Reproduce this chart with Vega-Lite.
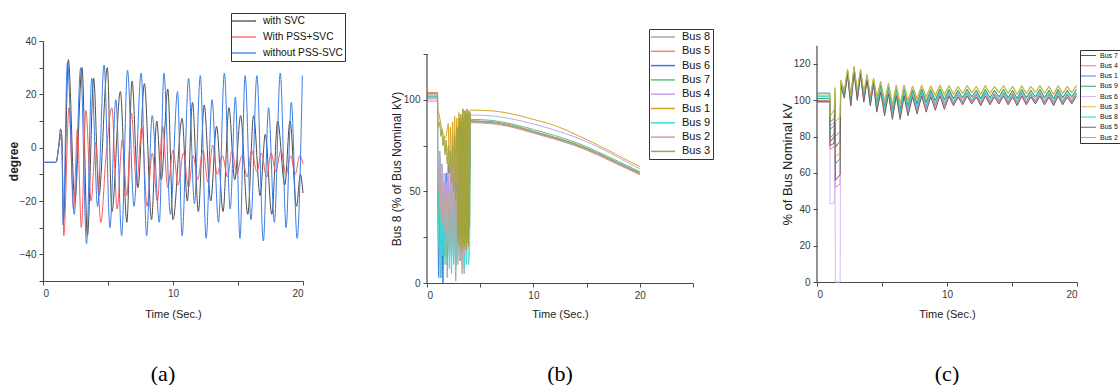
{
"$schema": "https://vega.github.io/schema/vega-lite/v6.json",
"autosize": {"type": "pad"},
"padding": {"left": 7, "top": 12, "right": 0, "bottom": 0},
"background": "white",
"bounds": "flush",
"spacing": 124,
"resolve": {"scale": {"color": "independent", "x": "independent", "y": "independent"}, "legend": {"color": "independent"}},
"config": {
 "view": {"stroke": null},
 "font": "Liberation Sans",
 "axis": {"grid": false, "domainColor": "#4a4a4a", "domainWidth": 1.2, "tickColor": "#4a4a4a", "tickWidth": 1, "tickSize": 4, "labelFontSize": 10, "labelColor": "#3a3a3a", "labelFont": "Liberation Sans", "labelPadding": 3, "titleFont": "Liberation Sans", "titleFontSize": 12, "titleFontWeight": "normal", "titleColor": "#222"},
 "title": {"font": "Liberation Serif", "fontSize": 22, "fontWeight": "normal", "color": "#000"},
 "legend": {"orient": "none", "symbolOpacity": 1, "labelFont": "Liberation Sans", "labelColor": "#111", "strokeColor": "#333", "fillColor": "white", "labelLimit": 300}
},
"hconcat": [
{
 "width": 260, "height": 240,
 "title": {"text": "(a)", "orient": "bottom", "offset": 45, "dx": -10},
 "data": {"values": [
  {"t":0,"v":-5.5,"s":"with SVC"},{"t":1.0,"v":-5.5,"s":"with SVC"},{"t":1.2,"v":0,"s":"with SVC"},{"t":1.35,"v":7,"s":"with SVC"},{"t":1.45,"v":4,"s":"with SVC"},{"t":1.58,"v":-27,"s":"with SVC"},{"t":1.95,"v":33,"s":"with SVC"},{"t":2.45,"v":-20,"s":"with SVC"},{"t":3.0,"v":30,"s":"with SVC"},{"t":3.42,"v":-33,"s":"with SVC"},{"t":3.9,"v":26,"s":"with SVC"},{"t":4.3,"v":-18,"s":"with SVC"},{"t":4.95,"v":30,"s":"with SVC"},{"t":5.3,"v":-24,"s":"with SVC"},{"t":5.95,"v":21,"s":"with SVC"},{"t":6.45,"v":-28,"s":"with SVC"},{"t":6.85,"v":25,"s":"with SVC"},{"t":7.3,"v":-15,"s":"with SVC"},{"t":7.8,"v":24,"s":"with SVC"},{"t":8.35,"v":-27,"s":"with SVC"},{"t":8.75,"v":10,"s":"with SVC"},{"t":9.1,"v":-12,"s":"with SVC"},{"t":9.6,"v":22,"s":"with SVC"},{"t":10.0,"v":-27,"s":"with SVC"},{"t":10.7,"v":11,"s":"with SVC"},{"t":11.1,"v":-20,"s":"with SVC"},{"t":11.5,"v":17,"s":"with SVC"},{"t":11.95,"v":-24,"s":"with SVC"},{"t":12.4,"v":16,"s":"with SVC"},{"t":12.9,"v":-20,"s":"with SVC"},{"t":13.35,"v":8,"s":"with SVC"},{"t":13.85,"v":-24,"s":"with SVC"},{"t":14.3,"v":15,"s":"with SVC"},{"t":14.75,"v":-12,"s":"with SVC"},{"t":15.2,"v":12,"s":"with SVC"},{"t":15.75,"v":-25,"s":"with SVC"},{"t":16.2,"v":12,"s":"with SVC"},{"t":16.7,"v":-18,"s":"with SVC"},{"t":17.1,"v":5,"s":"with SVC"},{"t":17.6,"v":-25,"s":"with SVC"},{"t":18.05,"v":10,"s":"with SVC"},{"t":18.6,"v":-14,"s":"with SVC"},{"t":19.0,"v":10,"s":"with SVC"},{"t":19.5,"v":-22,"s":"with SVC"},{"t":19.8,"v":-10,"s":"with SVC"},{"t":20.0,"v":-17,"s":"with SVC"},
  {"t":0,"v":-5.5,"s":"With PSS+SVC"},{"t":1.0,"v":-5.5,"s":"With PSS+SVC"},{"t":1.2,"v":0,"s":"With PSS+SVC"},{"t":1.35,"v":4,"s":"With PSS+SVC"},{"t":1.45,"v":1,"s":"With PSS+SVC"},{"t":1.6,"v":-33,"s":"With PSS+SVC"},{"t":2.0,"v":15,"s":"With PSS+SVC"},{"t":2.35,"v":-23,"s":"With PSS+SVC"},{"t":2.65,"v":7,"s":"With PSS+SVC"},{"t":2.95,"v":-30,"s":"With PSS+SVC"},{"t":3.3,"v":14,"s":"With PSS+SVC"},{"t":3.7,"v":-20,"s":"With PSS+SVC"},{"t":4.05,"v":2,"s":"With PSS+SVC"},{"t":4.45,"v":-28,"s":"With PSS+SVC"},{"t":4.85,"v":-3,"s":"With PSS+SVC"},{"t":5.3,"v":15,"s":"With PSS+SVC"},{"t":5.7,"v":-23,"s":"With PSS+SVC"},{"t":6.1,"v":3,"s":"With PSS+SVC"},{"t":6.45,"v":-18,"s":"With PSS+SVC"},{"t":6.8,"v":13,"s":"With PSS+SVC"},{"t":7.2,"v":-14,"s":"With PSS+SVC"},{"t":7.6,"v":8,"s":"With PSS+SVC"},{"t":8.0,"v":-22,"s":"With PSS+SVC"},{"t":8.4,"v":-2,"s":"With PSS+SVC"},{"t":8.8,"v":-20,"s":"With PSS+SVC"},{"t":9.2,"v":8,"s":"With PSS+SVC"},{"t":9.6,"v":-15,"s":"With PSS+SVC"},{"t":10.0,"v":-1,"s":"With PSS+SVC"},{"t":10.4,"v":-14,"s":"With PSS+SVC"},{"t":10.8,"v":-2,"s":"With PSS+SVC"},{"t":11.2,"v":-15,"s":"With PSS+SVC"},{"t":11.55,"v":-3,"s":"With PSS+SVC"},{"t":11.9,"v":-12,"s":"With PSS+SVC"},{"t":12.3,"v":-1,"s":"With PSS+SVC"},{"t":12.7,"v":-13,"s":"With PSS+SVC"},{"t":13.05,"v":1,"s":"With PSS+SVC"},{"t":13.4,"v":-10,"s":"With PSS+SVC"},{"t":13.8,"v":-3,"s":"With PSS+SVC"},{"t":14.2,"v":-11,"s":"With PSS+SVC"},{"t":14.55,"v":-1,"s":"With PSS+SVC"},{"t":14.9,"v":-10,"s":"With PSS+SVC"},{"t":15.3,"v":-3,"s":"With PSS+SVC"},{"t":15.7,"v":-11,"s":"With PSS+SVC"},{"t":16.05,"v":-1,"s":"With PSS+SVC"},{"t":16.45,"v":-9,"s":"With PSS+SVC"},{"t":16.8,"v":-2,"s":"With PSS+SVC"},{"t":17.2,"v":-11,"s":"With PSS+SVC"},{"t":17.55,"v":-2,"s":"With PSS+SVC"},{"t":17.9,"v":-9,"s":"With PSS+SVC"},{"t":18.3,"v":-1,"s":"With PSS+SVC"},{"t":18.7,"v":-10,"s":"With PSS+SVC"},{"t":19.05,"v":-3,"s":"With PSS+SVC"},{"t":19.4,"v":-10,"s":"With PSS+SVC"},{"t":19.75,"v":-3,"s":"With PSS+SVC"},{"t":20.0,"v":-6,"s":"With PSS+SVC"},
  {"t":0,"v":-5.5,"s":"without PSS-SVC"},{"t":1.0,"v":-5.5,"s":"without PSS-SVC"},{"t":1.2,"v":0,"s":"without PSS-SVC"},{"t":1.35,"v":5,"s":"without PSS-SVC"},{"t":1.45,"v":2,"s":"without PSS-SVC"},{"t":1.55,"v":-29,"s":"without PSS-SVC"},{"t":1.88,"v":32,"s":"without PSS-SVC"},{"t":2.4,"v":-25,"s":"without PSS-SVC"},{"t":2.9,"v":30,"s":"without PSS-SVC"},{"t":3.35,"v":-36,"s":"without PSS-SVC"},{"t":3.75,"v":26,"s":"without PSS-SVC"},{"t":4.2,"v":-22,"s":"without PSS-SVC"},{"t":4.7,"v":31,"s":"without PSS-SVC"},{"t":5.15,"v":-30,"s":"without PSS-SVC"},{"t":5.6,"v":18,"s":"without PSS-SVC"},{"t":6.05,"v":-33,"s":"without PSS-SVC"},{"t":6.5,"v":29,"s":"without PSS-SVC"},{"t":7.0,"v":-22,"s":"without PSS-SVC"},{"t":7.55,"v":28,"s":"without PSS-SVC"},{"t":7.97,"v":-33,"s":"without PSS-SVC"},{"t":8.4,"v":12,"s":"without PSS-SVC"},{"t":8.95,"v":-28,"s":"without PSS-SVC"},{"t":9.3,"v":28,"s":"without PSS-SVC"},{"t":9.8,"v":-25,"s":"without PSS-SVC"},{"t":10.35,"v":21,"s":"without PSS-SVC"},{"t":10.7,"v":-33,"s":"without PSS-SVC"},{"t":11.2,"v":26,"s":"without PSS-SVC"},{"t":11.65,"v":-21,"s":"without PSS-SVC"},{"t":12.1,"v":27,"s":"without PSS-SVC"},{"t":12.55,"v":-34,"s":"without PSS-SVC"},{"t":13.0,"v":18,"s":"without PSS-SVC"},{"t":13.5,"v":-28,"s":"without PSS-SVC"},{"t":13.95,"v":28,"s":"without PSS-SVC"},{"t":14.4,"v":-23,"s":"without PSS-SVC"},{"t":14.8,"v":19,"s":"without PSS-SVC"},{"t":15.15,"v":-34,"s":"without PSS-SVC"},{"t":15.55,"v":27,"s":"without PSS-SVC"},{"t":16.0,"v":-27,"s":"without PSS-SVC"},{"t":16.45,"v":27,"s":"without PSS-SVC"},{"t":16.95,"v":-35,"s":"without PSS-SVC"},{"t":17.35,"v":15,"s":"without PSS-SVC"},{"t":17.8,"v":-28,"s":"without PSS-SVC"},{"t":18.25,"v":28,"s":"without PSS-SVC"},{"t":18.7,"v":-30,"s":"without PSS-SVC"},{"t":19.1,"v":17,"s":"without PSS-SVC"},{"t":19.55,"v":-34,"s":"without PSS-SVC"},{"t":19.95,"v":27,"s":"without PSS-SVC"}
 ]},
 "mark": {"type": "line", "strokeWidth": 1, "interpolate": "monotone"},
 "encoding": {
  "x": {"field": "t", "type": "quantitative", "scale": {"domain": [0, 20], "nice": false},
        "axis": {"values": [0, 5, 10, 15, 20], "labelExpr": "datum.value % 10 === 0 ? datum.label : ''", "title": "Time (Sec.)", "titleFontSize": 11, "titleY": 33, "titleBaseline": "middle"}},
  "y": {"field": "v", "type": "quantitative", "scale": {"domain": [-50, 40], "nice": false, "zero": false},
        "axis": {"values": [-50, -40, -30, -20, -10, 0, 10, 20, 30, 40], "labelExpr": "datum.value % 20 === 0 ? datum.label : ''", "title": "degree", "titleFontWeight": "bold", "titleX": -29.5, "titleY": 120, "titleAngle": 270, "titleAlign": "center", "titleBaseline": "middle"}},
  "color": {"field": "s", "type": "nominal",
            "scale": {"domain": ["with SVC", "With PSS+SVC", "without PSS-SVC"], "range": ["#4d4d4d", "#ff5a5a", "#3a7de8"]},
            "legend": {"title": null, "legendX": 188, "legendY": -28, "symbolType": "M-2.4,0H2.4", "symbolSize": 100, "symbolStrokeWidth": 1.3, "symbolOffset": 5, "labelFontSize": 10.2, "padding": 2, "rowPadding": 4, "labelOffset": 13}}
 }
},
{
 "width": 266, "height": 242,
 "title": {"text": "(b)", "orient": "bottom", "offset": 45},
 "layer": [
 {
  "data": {"values": [
   {"t":0,"b8":101,"b5":99.3,"b6":102,"b7":101.5,"b4":103,"b1":104,"b9":102,"b2":100.5,"b3":103.5},
   {"t":0.99,"b8":101,"b5":99.3,"b6":102,"b7":101.5,"b4":103,"b1":104,"b9":102,"b2":100.5,"b3":103.5},
   {"t":1.0,"b8":73,"b5":71,"b6":72,"b7":70,"b4":74,"b1":96,"b9":75,"b2":72,"b3":92},
   {"t":1.1,"b8":40,"b5":45,"b6":3,"b7":30,"b4":55,"b1":93,"b9":20,"b2":50,"b3":85},
   {"t":1.2,"b8":68,"b5":65,"b6":45,"b7":72,"b4":70,"b1":90,"b9":60,"b2":66,"b3":88},
   {"t":1.3,"b8":35,"b5":40,"b6":3,"b7":28,"b4":45,"b1":87,"b9":3,"b2":38,"b3":80},
   {"t":1.4,"b8":60,"b5":55,"b6":30,"b7":65,"b4":65,"b1":84,"b9":50,"b2":58,"b3":84},
   {"t":1.5,"b8":25,"b5":30,"b6":0,"b7":35,"b4":40,"b1":82,"b9":15,"b2":32,"b3":75},
   {"t":1.6,"b8":55,"b5":50,"b6":40,"b7":55,"b4":60,"b1":80,"b9":45,"b2":52,"b3":80},
   {"t":1.7,"b8":20,"b5":25,"b6":15,"b7":15,"b4":35,"b1":79,"b9":10,"b2":28,"b3":70},
   {"t":1.8,"b8":45,"b5":55,"b6":60,"b7":50,"b4":55,"b1":80,"b9":40,"b2":48,"b3":78},
   {"t":1.9,"b8":3,"b5":20,"b6":25,"b7":10,"b4":30,"b1":84,"b9":20,"b2":22,"b3":65},
   {"t":2.0,"b8":40,"b5":45,"b6":65,"b7":45,"b4":60,"b1":87,"b9":50,"b2":50,"b3":75},
   {"t":2.1,"b8":15,"b5":30,"b6":20,"b7":20,"b4":40,"b1":60,"b9":8,"b2":18,"b3":60},
   {"t":2.2,"b8":50,"b5":60,"b6":50,"b7":55,"b4":70,"b1":85,"b9":45,"b2":45,"b3":72},
   {"t":2.3,"b8":25,"b5":20,"b6":30,"b7":15,"b4":35,"b1":55,"b9":5,"b2":15,"b3":55},
   {"t":2.4,"b8":45,"b5":50,"b6":60,"b7":60,"b4":80,"b1":88,"b9":40,"b2":55,"b3":75},
   {"t":2.5,"b8":10,"b5":25,"b6":25,"b7":20,"b4":40,"b1":62,"b9":12,"b2":20,"b3":50},
   {"t":2.6,"b8":35,"b5":55,"b6":50,"b7":50,"b4":82,"b1":91,"b9":55,"b2":60,"b3":80},
   {"t":2.7,"b8":1,"b5":30,"b6":35,"b7":10,"b4":45,"b1":58,"b9":8,"b2":15,"b3":45},
   {"t":2.8,"b8":40,"b5":60,"b6":55,"b7":45,"b4":85,"b1":90,"b9":45,"b2":50,"b3":85},
   {"t":2.9,"b8":20,"b5":25,"b6":30,"b7":18,"b4":50,"b1":70,"b9":15,"b2":10,"b3":22},
   {"t":2.95,"b3":85},
   {"t":3.0,"b8":45,"b5":55,"b6":60,"b7":55,"b4":80,"b1":93,"b9":50,"b2":55,"b3":25},
   {"t":3.05,"b3":90},
   {"t":3.1,"b8":15,"b5":30,"b6":35,"b7":20,"b4":45,"b1":50,"b9":12,"b2":12,"b3":20},
   {"t":3.15,"b3":92},
   {"t":3.2,"b8":50,"b5":50,"b6":55,"b7":60,"b4":75,"b1":92,"b9":40,"b2":50,"b3":25},
   {"t":3.25,"b3":88},
   {"t":3.3,"b8":10,"b5":20,"b6":30,"b7":25,"b4":40,"b1":65,"b9":15,"b2":5,"b3":18},
   {"t":3.35,"b3":95},
   {"t":3.4,"b8":40,"b5":55,"b6":50,"b7":65,"b4":78,"b1":95,"b9":45,"b2":45,"b3":22},
   {"t":3.45,"b3":90},
   {"t":3.5,"b8":5,"b5":25,"b6":35,"b7":20,"b4":35,"b1":55,"b9":8,"b2":15,"b3":20},
   {"t":3.55,"b3":94},
   {"t":3.6,"b8":45,"b5":50,"b6":55,"b7":55,"b4":70,"b1":94,"b9":30,"b2":55,"b3":25},
   {"t":3.65,"b3":92},
   {"t":3.7,"b8":20,"b5":30,"b6":30,"b7":25,"b4":40,"b1":60,"b9":10,"b2":20,"b3":18},
   {"t":3.75,"b3":95},
   {"t":3.8,"b8":50,"b5":55,"b6":50,"b7":60,"b4":75,"b1":95,"b9":35,"b2":60,"b3":22},
   {"t":3.85,"b3":93},
   {"t":3.9,"b8":25,"b5":35,"b6":40,"b7":30,"b4":45,"b1":70,"b9":10,"b2":25,"b3":20},
   {"t":3.95,"b3":94},
   {"t":4.0,"b8":55,"b5":60,"b6":60,"b7":50,"b4":70,"b1":94,"b9":20,"b2":65,"b3":30},
   {"t":4.05,"b3":93},
   {"t":4.1,"b8":88,"b5":87.5,"b6":88.2,"b7":89.3,"b4":91.7,"b1":94.4,"b9":88.4,"b2":87.8,"b3":88.6},
   {"t":6,"b8":87.5,"b5":87,"b6":87.7,"b7":88.8,"b4":91.3,"b1":94,"b9":87.9,"b2":87.3,"b3":88.1},
   {"t":8,"b8":85.5,"b5":85,"b6":85.7,"b7":86.8,"b4":89.5,"b1":92.3,"b9":85.9,"b2":85.3,"b3":86.1},
   {"t":10,"b8":82.3,"b5":81.8,"b6":82.5,"b7":83.8,"b4":86.8,"b1":89.3,"b9":82.7,"b2":82.1,"b3":82.9},
   {"t":12,"b8":79,"b5":78.5,"b6":79.2,"b7":80.5,"b4":83.5,"b1":86,"b9":79.4,"b2":78.8,"b3":79.6},
   {"t":14,"b8":75.3,"b5":74.8,"b6":75.5,"b7":76.7,"b4":79.5,"b1":81,"b9":75.7,"b2":75.1,"b3":75.9},
   {"t":16,"b8":70.5,"b5":70,"b6":70.7,"b7":71.8,"b4":74.5,"b1":75.5,"b9":70.9,"b2":70.3,"b3":71.1},
   {"t":18,"b8":65,"b5":64.5,"b6":65.2,"b7":66.3,"b4":68.5,"b1":69.5,"b9":65.4,"b2":64.8,"b3":65.6},
   {"t":20,"b8":59.6,"b5":59.1,"b6":59.8,"b7":60.8,"b4":62.3,"b1":63.5,"b9":60,"b2":59.4,"b3":60.2}
  ]},
  "transform": [{"fold": ["b8", "b5", "b6", "b7", "b4", "b1", "b9", "b2", "b3"], "as": ["bus", "v"]}, {"filter": "isValid(datum.v)"}],
  "mark": {"type": "line", "strokeWidth": 1, "interpolate": "monotone"},
  "encoding": {
   "x": {"field": "t", "type": "quantitative", "scale": {"domain": [0, 25], "nice": false},
         "axis": {"values": [0, 5, 10, 15, 20, 25], "labelExpr": "datum.value % 10 === 0 ? datum.label : ''", "title": "Time (Sec.)", "titleFontSize": 11, "titleY": 31, "titleBaseline": "middle"}},
   "y": {"field": "v", "type": "quantitative", "scale": {"domain": [0, 132.1], "nice": false},
         "axis": {"domain": false, "values": [0, 25, 50, 75, 100, 125], "labelExpr": "datum.value % 50 === 0 ? datum.label : ''", "title": "Bus 8 (% of Bus Nominal kV)", "titleX": -31, "titleY": 127.5, "titleAngle": 270, "titleAlign": "center", "titleBaseline": "middle"}},
   "color": {"field": "bus", "type": "nominal",
             "scale": {"domain": ["b8", "b5", "b6", "b7", "b4", "b1", "b9", "b2", "b3"], "range": ["#a8a8a8", "#ff8080", "#3a78e0", "#66bb88", "#c9a3f0", "#d9a520", "#48d8d8", "#c4a4a4", "#a3a33c"]},
             "legend": {"title": null, "labelExpr": "'Bus ' + substring(datum.label, 1)", "legendX": 222, "legendY": -12, "symbolType": "M-2.4,0H2.4", "symbolSize": 100, "symbolStrokeWidth": 1.5, "symbolOffset": 6, "labelFontSize": 11, "padding": 2, "rowPadding": 3.3, "labelOffset": 13}}
  }
 },
 {
  "data": {"values": [{}]},
  "mark": {"type": "rule", "color": "#4a4a4a", "strokeWidth": 1.2},
  "encoding": {"x": {"datum": 0, "type": "quantitative"}, "y": {"datum": 0, "type": "quantitative"}, "y2": {"datum": 125}}
 }
 ]
},
{
 "width": 260, "height": 241,
 "title": {"text": "(c)", "orient": "bottom", "offset": 45},
 "layer": [
 {
  "data": {"values": [
   {"t":0,"b7":99,"b4":100,"b1":104,"b9":101,"b6":99,"b3":102.5,"b8":102,"b5":99.5,"b2":103.5},
   {"t":0.99,"b7":99,"b4":100,"b1":104,"b9":101,"b6":99,"b3":102.5,"b8":102,"b5":99.5,"b2":103.5},
   {"t":1.0,"b7":77,"b4":73,"b1":88,"b9":84,"b6":43,"b3":86,"b8":79,"b5":75,"b2":91},
   {"t":1.33,"b7":80,"b4":74.5,"b1":90,"b9":86,"b6":43.5,"b3":88,"b8":82,"b5":76.5,"b2":95},
   {"t":1.37,"b7":100,"b4":98,"b1":104,"b9":102,"b6":99,"b3":105,"b8":106,"b5":99,"b2":107},
   {"t":1.41,"b7":74,"b4":52,"b1":80,"b9":65,"b6":0,"b3":69,"b8":75,"b5":56,"b2":88},
   {"t":1.78,"b7":77.5,"b4":54,"b1":83,"b9":68,"b6":0,"b3":71,"b8":77,"b5":59,"b2":91},
   {"t":1.82,"b7":108.8,"b4":109,"b1":110,"b9":110.2,"b6":108.5,"b3":111,"b8":109.4,"b5":108.2,"b2":111.2},
   {"t":2.1,"b7":102.2,"b4":102.5,"b1":104,"b9":103.9,"b6":101.8,"b3":105,"b8":103.2,"b5":101.2,"b2":105.5},
   {"t":2.35,"b7":114.8,"b4":115,"b1":116,"b9":116.2,"b6":114.5,"b3":117,"b8":115.4,"b5":114.2,"b2":117.2},
   {"t":2.6,"b7":98,"b4":99.5,"b1":101,"b9":100.9,"b6":97.5,"b3":102,"b8":100.2,"b5":97,"b2":102.5},
   {"t":2.85,"b7":116.3,"b4":116.5,"b1":117.5,"b9":117.7,"b6":116,"b3":118.5,"b8":116.9,"b5":115.7,"b2":118.7},
   {"t":3.1,"b7":101,"b4":102.5,"b1":104,"b9":103.9,"b6":100.5,"b3":105,"b8":103.2,"b5":100,"b2":105.5},
   {"t":3.35,"b7":114.8,"b4":115,"b1":116,"b9":116.2,"b6":114.5,"b3":117,"b8":115.4,"b5":114.2,"b2":117.2},
   {"t":3.6,"b7":100,"b4":101.5,"b1":103,"b9":102.9,"b6":99.5,"b3":104,"b8":102.2,"b5":99,"b2":104.5},
   {"t":3.85,"b7":111.8,"b4":112,"b1":113,"b9":113.2,"b6":111.5,"b3":114,"b8":112.4,"b5":111.2,"b2":114.2},
   {"t":4.1,"b7":98,"b4":99.5,"b1":101,"b9":100.9,"b6":97.5,"b3":102,"b8":100.2,"b5":97,"b2":102.5},
   {"t":4.35,"b7":109.8,"b4":110,"b1":111,"b9":111.2,"b6":109.5,"b3":112,"b8":110.4,"b5":109.2,"b2":112.2},
   {"t":4.6,"b7":95.5,"b4":96,"b1":99,"b9":98.8,"b6":94.5,"b3":101,"b8":97.3,"b5":93.5,"b2":102},
   {"t":4.9,"b7":105.5,"b4":106,"b1":108,"b9":108.3,"b6":105,"b3":110,"b8":106.8,"b5":104.5,"b2":110.5},
   {"t":5.2,"b7":93.5,"b4":94,"b1":97,"b9":96.8,"b6":92.5,"b3":99,"b8":95.3,"b5":91.5,"b2":100},
   {"t":5.5,"b7":104.5,"b4":105,"b1":107,"b9":107.3,"b6":104,"b3":109,"b8":105.8,"b5":103.5,"b2":109.5},
   {"t":5.8,"b7":91.5,"b4":92,"b1":95,"b9":94.8,"b6":90.5,"b3":97,"b8":93.3,"b5":89.5,"b2":98},
   {"t":6.1,"b7":103.5,"b4":104,"b1":106,"b9":106.3,"b6":103,"b3":108,"b8":104.8,"b5":102.5,"b2":108.5},
   {"t":6.4,"b7":91.5,"b4":92,"b1":95,"b9":94.8,"b6":90.5,"b3":97,"b8":93.3,"b5":89.5,"b2":98},
   {"t":6.7,"b7":103.5,"b4":104,"b1":106,"b9":106.3,"b6":103,"b3":108,"b8":104.8,"b5":102.5,"b2":108.5},
   {"t":7.0,"b7":93.5,"b4":94,"b1":97,"b9":96.8,"b6":92.5,"b3":99,"b8":95.3,"b5":91.5,"b2":100},
   {"t":7.35,"b7":103,"b4":103.5,"b1":105.5,"b9":105.8,"b6":102.5,"b3":107.5,"b8":104.3,"b5":102,"b2":108},
   {"t":7.7,"b7":94.5,"b4":95,"b1":98,"b9":97.8,"b6":93.5,"b3":100,"b8":96.3,"b5":92.5,"b2":101},
   {"t":8.05,"b7":103.5,"b4":104,"b1":106,"b9":106.3,"b6":103,"b3":108,"b8":104.8,"b5":102.5,"b2":108.5},
   {"t":8.4,"b7":95.5,"b4":96,"b1":99,"b9":98.8,"b6":94.5,"b3":101,"b8":97.3,"b5":93.5,"b2":102},
   {"t":8.75,"b7":103,"b4":103.5,"b1":105.5,"b9":105.8,"b6":102.5,"b3":107.5,"b8":104.3,"b5":102,"b2":108},
   {"t":9.1,"b7":96.5,"b4":97,"b1":100,"b9":99.8,"b6":95.5,"b3":102,"b8":98.3,"b5":94.5,"b2":103},
   {"t":9.45,"b7":103.5,"b4":104,"b1":106,"b9":106.3,"b6":103,"b3":108,"b8":104.8,"b5":102.5,"b2":108.5},
   {"t":9.8,"b7":97,"b4":97.5,"b1":100.5,"b9":100.3,"b6":96,"b3":102.5,"b8":98.8,"b5":95,"b2":103.5},
   {"t":10.15,"b7":103.3,"b4":103.8,"b1":105.8,"b9":106.1,"b6":102.8,"b3":107.8,"b8":104.6,"b5":102.3,"b2":108.3},
   {"t":10.5,"b7":98,"b4":98.5,"b1":101,"b9":100.8,"b6":97.5,"b3":103,"b8":99.5,"b5":97,"b2":103.5},
   {"t":10.85,"b7":102.8,"b4":103.3,"b1":105.3,"b9":105.6,"b6":102.3,"b3":107.3,"b8":104.1,"b5":101.8,"b2":107.8},
   {"t":11.2,"b7":98.5,"b4":99,"b1":101.5,"b9":101.3,"b6":98,"b3":103.5,"b8":100,"b5":97.5,"b2":104},
   {"t":11.55,"b7":103.3,"b4":103.8,"b1":105.8,"b9":106.1,"b6":102.8,"b3":107.8,"b8":104.6,"b5":102.3,"b2":108.3},
   {"t":11.9,"b7":99,"b4":99.5,"b1":102,"b9":101.8,"b6":98.5,"b3":104,"b8":100.5,"b5":98,"b2":104.5},
   {"t":12.25,"b7":102.8,"b4":103.3,"b1":105.3,"b9":105.6,"b6":102.3,"b3":107.3,"b8":104.1,"b5":101.8,"b2":107.8},
   {"t":12.6,"b7":98,"b4":98.5,"b1":101,"b9":100.8,"b6":97.5,"b3":103,"b8":99.5,"b5":97,"b2":103.5},
   {"t":12.95,"b7":103.3,"b4":103.8,"b1":105.8,"b9":106.1,"b6":102.8,"b3":107.8,"b8":104.6,"b5":102.3,"b2":108.3},
   {"t":13.3,"b7":98.5,"b4":99,"b1":101.5,"b9":101.3,"b6":98,"b3":103.5,"b8":100,"b5":97.5,"b2":104},
   {"t":13.65,"b7":102.8,"b4":103.3,"b1":105.3,"b9":105.6,"b6":102.3,"b3":107.3,"b8":104.1,"b5":101.8,"b2":107.8},
   {"t":14.0,"b7":99,"b4":99.5,"b1":102,"b9":101.8,"b6":98.5,"b3":104,"b8":100.5,"b5":98,"b2":104.5},
   {"t":14.35,"b7":103.3,"b4":103.8,"b1":105.8,"b9":106.1,"b6":102.8,"b3":107.8,"b8":104.6,"b5":102.3,"b2":108.3},
   {"t":14.7,"b7":98.5,"b4":99,"b1":101.5,"b9":101.3,"b6":98,"b3":103.5,"b8":100,"b5":97.5,"b2":104},
   {"t":15.05,"b7":102.8,"b4":103.3,"b1":105.3,"b9":105.6,"b6":102.3,"b3":107.3,"b8":104.1,"b5":101.8,"b2":107.8},
   {"t":15.4,"b7":98,"b4":98.5,"b1":101,"b9":100.8,"b6":97.5,"b3":103,"b8":99.5,"b5":97,"b2":103.5},
   {"t":15.75,"b7":103.3,"b4":103.8,"b1":105.8,"b9":106.1,"b6":102.8,"b3":107.8,"b8":104.6,"b5":102.3,"b2":108.3},
   {"t":16.1,"b7":98.5,"b4":99,"b1":101.5,"b9":101.3,"b6":98,"b3":103.5,"b8":100,"b5":97.5,"b2":104},
   {"t":16.45,"b7":102.8,"b4":103.3,"b1":105.3,"b9":105.6,"b6":102.3,"b3":107.3,"b8":104.1,"b5":101.8,"b2":107.8},
   {"t":16.8,"b7":99,"b4":99.5,"b1":102,"b9":101.8,"b6":98.5,"b3":104,"b8":100.5,"b5":98,"b2":104.5},
   {"t":17.15,"b7":103.3,"b4":103.8,"b1":105.8,"b9":106.1,"b6":102.8,"b3":107.8,"b8":104.6,"b5":102.3,"b2":108.3},
   {"t":17.5,"b7":98.5,"b4":99,"b1":101.5,"b9":101.3,"b6":98,"b3":103.5,"b8":100,"b5":97.5,"b2":104},
   {"t":17.85,"b7":102.8,"b4":103.3,"b1":105.3,"b9":105.6,"b6":102.3,"b3":107.3,"b8":104.1,"b5":101.8,"b2":107.8},
   {"t":18.2,"b7":98,"b4":98.5,"b1":101,"b9":100.8,"b6":97.5,"b3":103,"b8":99.5,"b5":97,"b2":103.5},
   {"t":18.55,"b7":103.3,"b4":103.8,"b1":105.8,"b9":106.1,"b6":102.8,"b3":107.8,"b8":104.6,"b5":102.3,"b2":108.3},
   {"t":18.9,"b7":98.5,"b4":99,"b1":101.5,"b9":101.3,"b6":98,"b3":103.5,"b8":100,"b5":97.5,"b2":104},
   {"t":19.25,"b7":102.8,"b4":103.3,"b1":105.3,"b9":105.6,"b6":102.3,"b3":107.3,"b8":104.1,"b5":101.8,"b2":107.8},
   {"t":19.6,"b7":99,"b4":99.5,"b1":102,"b9":101.8,"b6":98.5,"b3":104,"b8":100.5,"b5":98,"b2":104.5},
   {"t":19.95,"b7":103.3,"b4":103.8,"b1":105.8,"b9":106.1,"b6":102.8,"b3":107.8,"b8":104.6,"b5":102.3,"b2":108.3}
  ]},
  "transform": [{"fold": ["b7", "b4", "b1", "b9", "b6", "b3", "b8", "b5", "b2"], "as": ["bus", "v"]}, {"filter": "isValid(datum.v)"}],
  "mark": {"type": "line", "strokeWidth": 1},
  "encoding": {
   "x": {"field": "t", "type": "quantitative", "scale": {"domain": [0, 20], "nice": false},
         "axis": {"values": [0, 5, 10, 15, 20], "labelExpr": "datum.value % 10 === 0 ? datum.label : ''", "title": "Time (Sec.)", "titleFontSize": 11, "titleY": 32, "titleBaseline": "middle"}},
   "y": {"field": "v", "type": "quantitative", "scale": {"domain": [0, 132.65], "nice": false},
         "axis": {"domain": false, "values": [0, 10, 20, 30, 40, 50, 60, 70, 80, 90, 100, 110, 120, 130], "labelExpr": "datum.value % 20 === 0 ? datum.label : ''", "title": "% of Bus Nominal kV", "titleFontSize": 13, "titleX": -30, "titleY": 123, "titleAngle": 270, "titleAlign": "center", "titleBaseline": "middle"}},
   "color": {"field": "bus", "type": "nominal",
             "scale": {"domain": ["b7", "b4", "b1", "b9", "b6", "b3", "b8", "b5", "b2"], "range": ["#5a5a5a", "#ff7070", "#4a8af4", "#3aa86a", "#d9b8f5", "#e6b84a", "#2ad6d0", "#7a5c5c", "#b8b84a"]},
             "legend": {"title": null, "labelExpr": "'Bus ' + substring(datum.label, 1)", "legendX": 263, "legendY": 9, "symbolType": "M-2.5,0H2.5", "symbolSize": 36, "symbolStrokeWidth": 1, "symbolOffset": 3, "labelFontSize": 7, "padding": 2, "rowPadding": 2.25, "labelOffset": 8}}
  }
 },
 {
  "data": {"values": [{}]},
  "mark": {"type": "rule", "color": "#4a4a4a", "strokeWidth": 1.2},
  "encoding": {"x": {"datum": 0, "type": "quantitative"}, "y": {"datum": 0, "type": "quantitative"}, "y2": {"datum": 130}}
 }
 ]
}
]
}
